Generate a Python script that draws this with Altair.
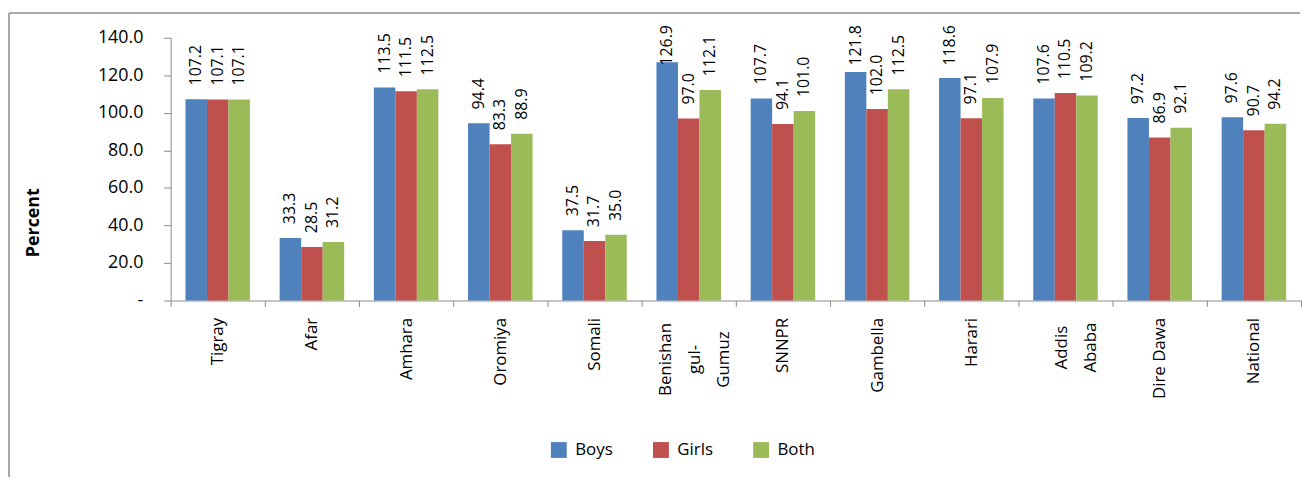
import altair as alt
import pandas as pd

regions = ["Tigray", "Afar", "Amhara", "Oromiya", "Somali", "Benishangul-Gumuz",
           "SNNPR", "Gambella", "Harari", "Addis Ababa", "Dire Dawa", "National"]
series = ["Boys", "Girls", "Both"]
boys = [107.2, 33.3, 113.5, 94.4, 37.5, 126.9, 107.7, 121.8, 118.6, 107.6, 97.2, 97.6]
girls = [107.1, 28.5, 111.5, 83.3, 31.7, 97.0, 94.1, 102.0, 97.1, 110.5, 86.9, 90.7]
both = [107.1, 31.2, 112.5, 88.9, 35.0, 112.1, 101.0, 112.5, 107.9, 109.2, 92.1, 94.2]
colors = ["#4F81BD", "#C0504D", "#9BBB59"]
y_ticks = [0, 20, 40, 60, 80, 100, 120, 140]

rows = []
for s, vals in zip(series, [boys, girls, both]):
    for r, v in zip(regions, vals):
        rows.append({"region": r, "series": s, "value": v})
df = pd.DataFrame(rows)

FONT = "Open Sans"
AXIS_GRAY = "#8a8a8a"
IS_BG = "datum.value == 'Benishangul-Gumuz'"
IS_AA = "datum.value == 'Addis Ababa'"
y_scale = alt.Scale(domain=[0, 140], nice=False)

x_enc = alt.X(
    "region:N", sort=regions,
    scale=alt.Scale(paddingInner=0, paddingOuter=0),
    axis=alt.Axis(
        title=None, labelAngle=270, tickBand="extent", tickSize=6,
        domainColor=AXIS_GRAY, tickColor=AXIS_GRAY,
        labelFont=FONT, labelFontSize=17, labelColor="#000000",
        labelOverlap=False, labelLineHeight=29,
        labelPadding={"condition": [{"test": IS_BG, "value": 53},
                                    {"test": IS_AA, "value": 41}], "value": 11},
        labelAlign={"condition": [{"test": IS_BG, "value": "center"},
                                  {"test": IS_AA, "value": "center"}], "value": "right"},
        labelOffset={"condition": [{"test": IS_BG, "value": -23},
                                   {"test": IS_AA, "value": -4}], "value": 0},
        labelExpr=("datum.value == 'Benishangul-Gumuz' ? ['Benishan', 'gul-', 'Gumuz'] : "
                   "datum.value == 'Addis Ababa' ? ['Addis', 'Ababa'] : datum.label"),
    ),
)
y_axis = alt.Axis(
    values=y_ticks, grid=False, tickSize=7, labelPadding=21,
    domainColor=AXIS_GRAY, tickColor=AXIS_GRAY,
    labelFont=FONT, labelFontSize=18, labelColor="#000000",
    labelExpr="datum.value == 0 ? '-\u00a0\u00a0\u00a0\u00a0\u00a0\u00a0' : format(datum.value, '.1f')",
    title="Percent", titleX=-138, titleY=186, titleAngle=270,
    titleAlign="center", titleBaseline="middle",
    titleFont=FONT, titleFontSize=18, titleFontWeight="bold", titleColor="#000000",
)
xoff = alt.XOffset("series:N", sort=series, scale=alt.Scale(paddingInner=0, paddingOuter=0.69))

bars = alt.Chart(df).mark_bar().encode(
    x=x_enc,
    y=alt.Y("value:Q", scale=y_scale, axis=y_axis),
    xOffset=xoff,
    color=alt.Color(
        "series:N", sort=series,
        scale=alt.Scale(domain=series, range=colors),
        legend=alt.Legend(
            orient="none", legendX=383, legendY=407, direction="horizontal",
            title=None, symbolType="square", symbolSize=256, symbolStrokeWidth=0,
            labelFont=FONT, labelFontSize=17, labelColor="#000000",
            labelOffset=8, columnPadding=40, padding=0,
        ),
    ),
)

# labels sit above the bars but are kept inside the plot area (as in the original)
labels = alt.Chart(df).transform_calculate(
    label_y="min(datum.value, 117.8)"
).mark_text(
    angle=270, align="left", baseline="middle", dx=14,
    font=FONT, fontSize=16, color="#000000",
).encode(
    x=x_enc,
    y=alt.Y("label_y:Q", scale=y_scale, axis=y_axis),
    xOffset=xoff,
    text=alt.Text("value:Q", format=".1f"),
)

frame_df = pd.DataFrame({"k": [0]})
left_border = alt.Chart(frame_df).mark_rule(color="#8c8c8c", strokeWidth=1.5).encode(
    x=alt.value(-163), y=alt.value(-25), y2=alt.value(443)
)
top_border = alt.Chart(frame_df).mark_rule(color="#8c8c8c", strokeWidth=1.5).encode(
    x=alt.value(-163), x2=alt.value(1139), y=alt.value(-25)
)

chart = alt.layer(bars, labels, left_border, top_border).properties(
    width=1140, height=265,
    padding={"top": 2, "left": 0, "right": 0, "bottom": 0},
).configure_view(stroke=None)

chart.save("out.html", embed_options={"renderer": "svg", "actions": False})
